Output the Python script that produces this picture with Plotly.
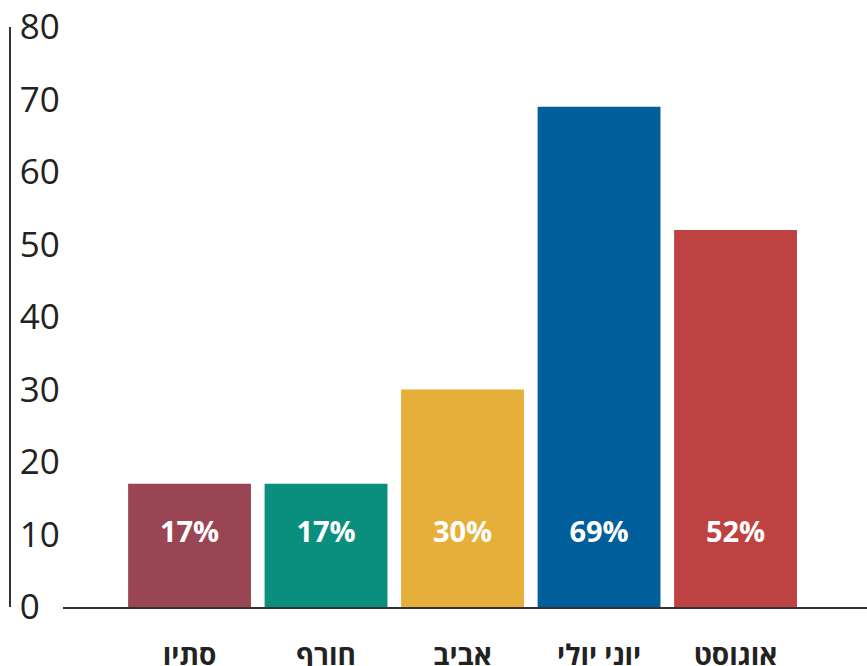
import plotly.graph_objects as go

# Data
categories = ["סתיו", "חורף", "אביב", "יוני יולי", "אוגוסט"]
values = [17, 17, 30, 69, 52]
bar_labels = ["17%", "17%", "30%", "69%", "52%"]
y_ticks = [0, 10, 20, 30, 40, 50, 60, 70, 80]

# Style
bar_colors = ["#9A4554", "#0A8F7F", "#E6AF3A", "#005F9B", "#BF4242"]
label_y = 10
font_family = "Open Sans, DejaVu Sans, sans-serif"

W, H = 867, 666
ml, mr, mt, mb = 10, 0, 27, 59
plot_w = W - ml - mr
x_start = (63 - ml) / plot_w

fig = go.Figure()

fig.add_trace(
    go.Bar(
        x=categories,
        y=values,
        marker=dict(color=bar_colors, line=dict(width=0)),
        width=0.9,
        hoverinfo="skip",
    )
)

# percentage labels inside the bars, near the bottom
fig.add_trace(
    go.Scatter(
        x=categories,
        y=[label_y] * len(categories),
        mode="text",
        text=bar_labels,
        textfont=dict(family=font_family, size=29, color="white", weight="bold"),
        hoverinfo="skip",
    )
)

fig.update_layout(
    width=W,
    height=H,
    margin=dict(l=ml, r=mr, t=mt, b=mb),
    paper_bgcolor="white",
    plot_bgcolor="white",
    showlegend=False,
    xaxis=dict(
        domain=[x_start, 1],
        range=[-0.927, 4.963],
        showline=True,
        linecolor="#333333",
        linewidth=1.5,
        showgrid=False,
        zeroline=False,
        ticks="",
        ticklabelstandoff=23,
        tickfont=dict(family=font_family, size=28, color="#222222", weight="bold"),
        automargin=False,
        fixedrange=True,
    ),
    yaxis=dict(
        range=[0, 80],
        tickvals=y_ticks,
        anchor="free",
        position=0,
        showline=True,
        linecolor="#333333",
        linewidth=1.5,
        showgrid=False,
        zeroline=False,
        ticks="",
        ticklabelposition="inside",
        ticklabeloverflow="allow",
        ticklabelstandoff=13,
        tickfont=dict(family=font_family, size=35, color="#222222"),
        automargin=False,
        fixedrange=True,
    ),
)

fig.write_html(
    "out.html",
    config={"displayModeBar": False},
    post_script="document.body.style.margin='0';",
)
